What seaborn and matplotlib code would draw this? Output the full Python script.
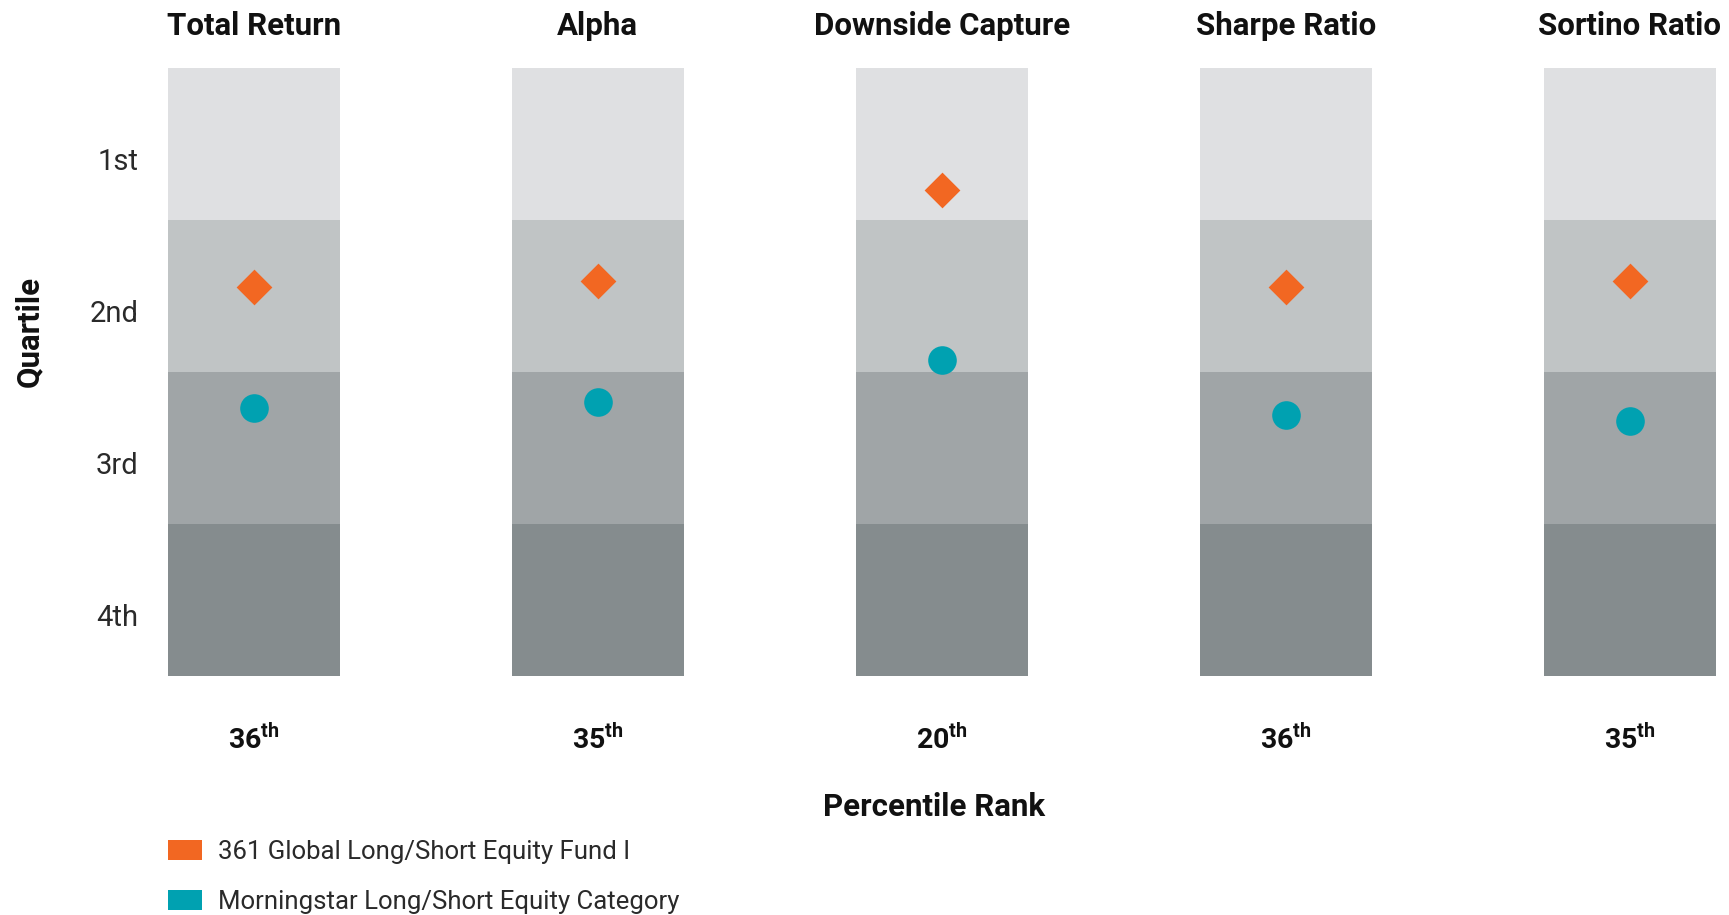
import matplotlib
matplotlib.use("Agg")
import matplotlib.pyplot as plt
import matplotlib.transforms as mtransforms
from matplotlib.patches import Patch
import seaborn as sns
import pandas as pd

# ---- data ----
metrics = ["Total Return", "Alpha", "Downside Capture", "Sharpe Ratio", "Sortino Ratio"]
fund_pct = [36, 35, 20, 36, 35]          # 361 Global Long/Short Equity Fund I
category_pct = [56, 55, 48, 57, 58]      # Morningstar Long/Short Equity Category
quartile_labels = ["1st", "2nd", "3rd", "4th"]
quartile_upper = [25, 50, 75, 100]
band_colors = ["#DFE0E2", "#C0C4C5", "#A0A5A7", "#858C8E"]
fund_name = "361 Global Long/Short Equity Fund I"
cat_name = "Morningstar Long/Short Equity Category"
orange = "#F26722"
teal = "#00A1B1"

sns.set_theme(style="white")
plt.rcParams["font.family"] = ["Roboto", "DejaVu Sans"]
plt.rcParams["mathtext.fontset"] = "custom"
plt.rcParams["mathtext.bf"] = "Roboto:bold"
plt.rcParams["mathtext.rm"] = "Roboto"

W, H = 1729, 915
fig = plt.figure(figsize=(W / 100, H / 100), dpi=100)
ax_l, ax_r, ax_t, ax_b = 167.6, 1715.8, 68, 676
ax = fig.add_axes([ax_l / W, 1 - ax_b / H, (ax_r - ax_l) / W, (ax_b - ax_t) / H])

# quartile bands: draw from bottom quartile (tallest) to top quartile
for up, col in sorted(zip(quartile_upper, band_colors), reverse=True):
    df = pd.DataFrame({"metric": metrics, "v": [up] * len(metrics)})
    sns.barplot(data=df, x="metric", y="v", color=col, width=0.5, saturation=1,
                linewidth=0, ax=ax, zorder=1)

sns.stripplot(x=metrics, y=fund_pct, marker="D", size=18.2, jitter=False,
              color=orange, linewidth=0, ax=ax, zorder=3)
sns.stripplot(x=metrics, y=category_pct, marker="o", size=20.6, jitter=False,
              color=teal, linewidth=0, ax=ax, zorder=3)

ax.set_xlim(-0.25, len(metrics) - 0.75)
ax.set_ylim(100, 0)
for s in ax.spines.values():
    s.set_visible(False)

# y ticks: quartile labels
centers = [u - 12.5 for u in quartile_upper]
ax.set_yticks(centers)
ax.set_yticklabels(quartile_labels, fontsize=21, fontweight="normal", color="#2a2a2a")
ax.tick_params(axis="y", length=0, pad=21)
off = mtransforms.ScaledTranslation(0, -0.15, fig.dpi_scale_trans)
for lab in ax.yaxis.get_majorticklabels():
    lab.set_transform(lab.get_transform() + off)

# x ticks: percentile ranks
ax.set_xticks(range(len(metrics)))
ax.set_xticklabels([r"$\mathbf{%d}^{\mathbf{th}}$" % p for p in fund_pct],
                   fontsize=20.5, color="#111111")
ax.tick_params(axis="x", length=0, pad=35)

# titles above each column
tr = mtransforms.blended_transform_factory(ax.transData, ax.transAxes)
for i, m in enumerate(metrics):
    ax.text(i, 1 + (ax_t - 26) / (ax_b - ax_t), m, transform=tr, ha="center",
            va="center", fontsize=22.5, fontweight="bold", color="#111111")

ax.set_xlabel("Percentile Rank", fontsize=22.5, fontweight="bold", color="#111111")
ax.xaxis.set_label_coords((934 - ax_l) / (ax_r - ax_l), (ax_b - 807) / (ax_b - ax_t))
ax.xaxis.label.set_va("center")
ax.set_ylabel("Quartile", fontsize=22.5, fontweight="bold", color="#111111")
ax.yaxis.set_label_coords((29 - ax_l) / (ax_r - ax_l), (ax_b - 331) / (ax_b - ax_t))
ax.yaxis.label.set_va("center")

handles = [Patch(facecolor=orange, edgecolor="none"), Patch(facecolor=teal, edgecolor="none")]
fig.legend(handles, [fund_name, cat_name], loc="upper left",
           bbox_to_anchor=(ax_l / W, 1 - 840 / H), frameon=False,
           prop={"weight": "normal", "size": 18.5},
           handlelength=1.35, handleheight=0.8, handletextpad=0.6,
           labelspacing=1.0, borderaxespad=0, borderpad=0, labelcolor="#2a2a2a")

fig.savefig("out.png", dpi=100, facecolor="white")
